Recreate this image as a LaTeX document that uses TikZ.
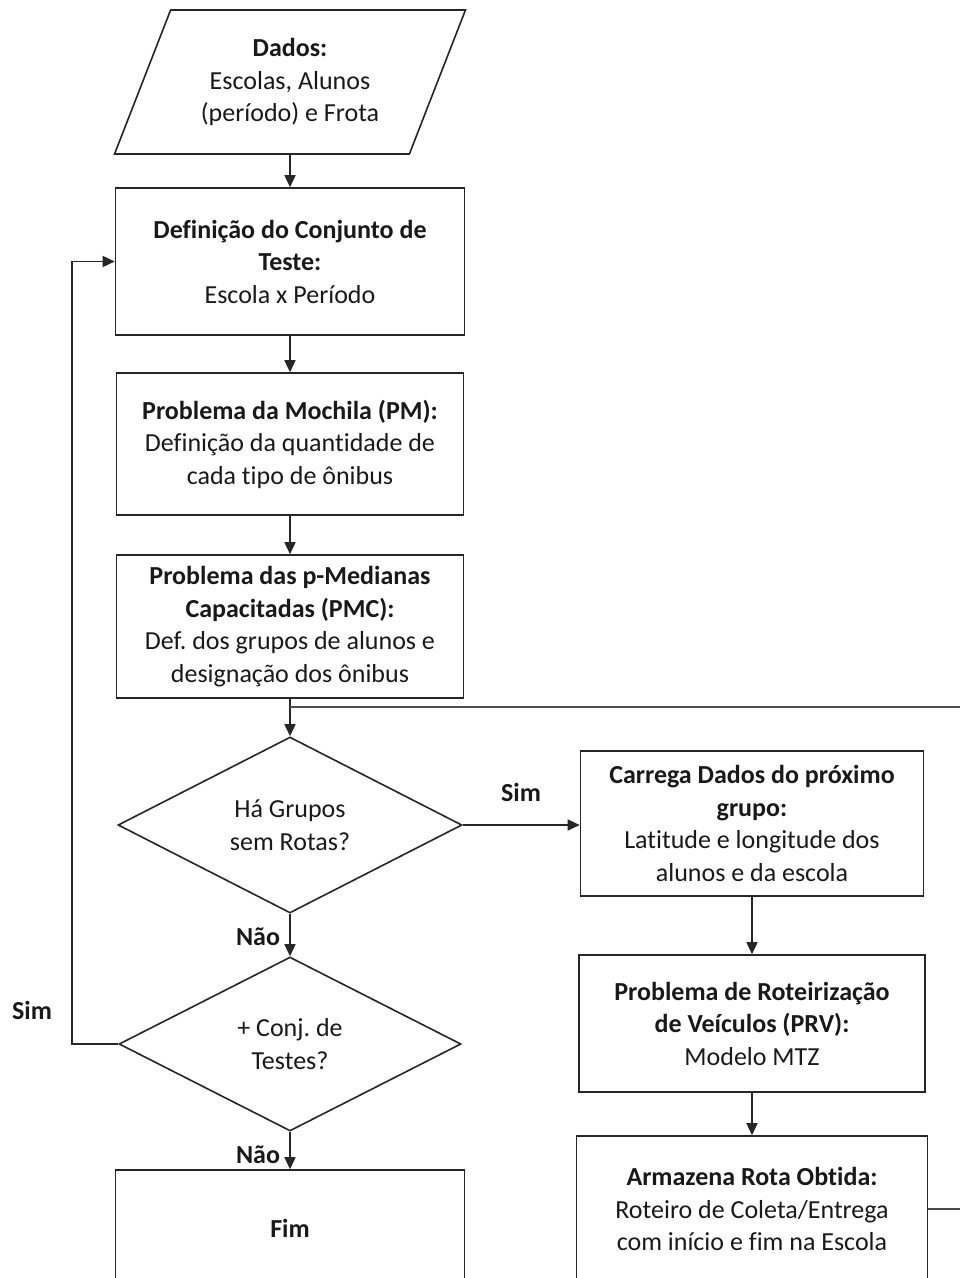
\documentclass[tikz,border=0pt]{standalone}
\usepackage{fontspec}
\setmainfont{Carlito}[Ligatures=NoCommon]
\usetikzlibrary{shapes.geometric,arrows.meta}
\frenchspacing

\begin{document}
\begin{tikzpicture}[x=1pt,y=-1pt,line width=1.6pt,
	>={Triangle[length=12pt,width=11pt]},
	every node/.style={font=\fontsize{26}{32.5}\selectfont,text=black!90},
	caixa/.style={draw=black!85,rectangle,align=center,inner sep=0pt},
	decisao/.style={draw=black!85,diamond,align=center,inner sep=0pt},
	entrada/.style={draw=black!85,trapezium,trapezium left angle=64.4,trapezium right angle=115.6,
		trapezium stretches=true,align=center,inner sep=0pt},
	rotulo/.style={font=\fontsize{26}{32.5}\selectfont\bfseries}]
	\useasboundingbox (0,0) rectangle (960,1278);
	\clip (0,0) rectangle (960,1278);
	% coluna da esquerda
	\node[entrada,minimum width=351pt,minimum height=144pt] (dados) at (290,82) {\textbf{Dados:}\\Escolas, Alunos\\(período) e Frota};
	\node[caixa,minimum width=349pt,minimum height=147pt] (def) at (290,261.5) {\textbf{Definição do Conjunto de}\\\textbf{Teste:}\\Escola x Período};
	\node[caixa,minimum width=347pt,minimum height=142pt] (pm) at (290,444) {\textbf{Problema da Mochila (PM):}\\Definição da quantidade de\\cada tipo de ônibus};
	\node[caixa,minimum width=347pt,minimum height=143pt] (pmc) at (290,626.5) {\textbf{Problema das p-Medianas}\\\textbf{Capacitadas (PMC):}\\Def. dos grupos de alunos e\\designação dos ônibus};
	\node[decisao,minimum width=344pt,minimum height=176pt] (grupos) at (290,825) {Há Grupos\\sem Rotas?};
	\node[decisao,minimum width=342pt,minimum height=174pt] (conj) at (290,1044) {+ Conj. de\\Testes?};
	\node[caixa,minimum width=349pt,minimum height=116pt] (fim) at (290,1228) {\textbf{Fim}};
	% coluna da direita
	\node[caixa,minimum width=343pt,minimum height=145pt] (carrega) at (752,823.5) {\textbf{Carrega Dados do próximo}\\\textbf{grupo:}\\Latitude e longitude dos\\alunos e da escola};
	\node[caixa,minimum width=346pt,minimum height=137pt] (prv) at (752,1023.5) {\textbf{Problema de Roteirização}\\\textbf{de Veículos (PRV):}\\Modelo MTZ};
	\node[caixa,minimum width=351pt,minimum height=146pt] (arm) at (752,1209) {\textbf{Armazena Rota Obtida:}\\Roteiro de Coleta/Entrega\\com início e fim na Escola};
	% rotulos
	\node[rotulo] (simA) at (521,792) {Sim};
	\node[rotulo] (naoA) at (258,937) {Não};
	\node[rotulo] (simB) at (32,1010) {Sim};
	\node[rotulo] (naoB) at (258,1155) {Não};
	% pontos auxiliares
	\coordinate (junta) at (290,707);
	\coordinate (volta) at (985,707);
	\coordinate (retorno) at (72,1044);
	% ligacoes
	\draw[->,draw=black!85] (dados) -- (def);
	\draw[->,draw=black!85] (def) -- (pm);
	\draw[->,draw=black!85] (pm) -- (pmc);
	\draw[->,draw=black!85] (pmc) -- (grupos);
	\draw[->,draw=black!85] (grupos.east) -- (grupos.east -| carrega.west);
	\draw[->,draw=black!85] (carrega) -- (prv);
	\draw[->,draw=black!85] (prv) -- (arm);
	\draw[draw=black!70] (arm.east) -| (volta) -- (junta);
	\draw[->,draw=black!85] (grupos) -- (conj);
	\draw[->,draw=black!85] (conj) -- (fim);
	\draw[->,draw=black!85] (conj.west) -- (retorno) |- (def.west);
\end{tikzpicture}
\end{document}
